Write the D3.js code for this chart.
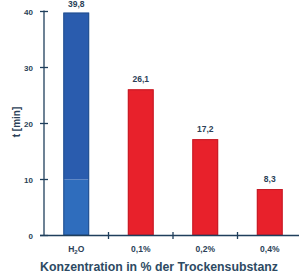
<!DOCTYPE html>
<html><head><meta charset="utf-8">
<script src="https://cdn.jsdelivr.net/npm/d3@7/dist/d3.min.js"></script>
<style>html,body{margin:0;padding:0;background:#fff;overflow:hidden}</style>
</head><body><svg id="c" width="299" height="277"></svg>
<script>
const categories = ["H2O", "0,1%", "0,2%", "0,4%"];
const values = [39.8, 26.1, 17.2, 8.3];
const valueLabels = ["39,8", "26,1", "17,2", "8,3"];
const yTicks = [0, 10, 20, 30, 40];
const colors = ["#2a5cae", "#e8212b", "#e8212b", "#e8212b"];

const svg = d3.select("#c");
const textCol = "#2b3f57";
const axisCol = "#1f3f5c";
const font = "Liberation Sans, Arial, sans-serif";
const x = d3.scaleBand().domain(categories).range([44, 302]).paddingInner(0.6).paddingOuter(0.3);
const y = d3.scaleLinear().domain([0, 40]).range([235.5, 11.5]);

const g = svg.append("g");
categories.forEach((c, i) => {
  const bx = x(c), bw = x.bandwidth();
  if (i === 0) {
    g.append("rect").attr("x", bx).attr("y", y(10)).attr("width", bw).attr("height", y(0) - y(10)).attr("fill", "#2f6dbd");
    g.append("rect").attr("x", bx).attr("y", y(values[i])).attr("width", bw).attr("height", y(10) - y(values[i])).attr("fill", colors[i]);
    g.append("rect").attr("x", bx + 0.5).attr("y", y(values[i]) + 0.5).attr("width", bw - 1).attr("height", y(0) - y(values[i]) - 1).attr("fill", "none").attr("stroke", "#24508f").attr("stroke-width", 1);
  } else {
    g.append("rect").attr("x", bx).attr("y", y(values[i])).attr("width", bw).attr("height", y(0) - y(values[i])).attr("fill", colors[i]);
    g.append("rect").attr("x", bx + 0.5).attr("y", y(values[i]) + 0.5).attr("width", bw - 1).attr("height", y(0) - y(values[i]) - 1).attr("fill", "none").attr("stroke", "#c41c27").attr("stroke-width", 1);
  }
  svg.append("text").attr("x", bx + bw / 2).attr("y", Math.max(y(values[i]) - 7, 7))
    .attr("text-anchor", "middle").attr("font-family", font)
    .attr("font-size", 8.5).attr("font-weight", "bold").attr("fill", textCol).text(valueLabels[i]);
});

// y axis
svg.append("line").attr("x1", 44).attr("x2", 44).attr("y1", y(40) - 1).attr("y2", y(0)).attr("stroke", axisCol).attr("stroke-width", 1.3);
yTicks.forEach(t => {
  svg.append("line").attr("x1", 40).attr("x2", 48).attr("y1", y(t)).attr("y2", y(t)).attr("stroke", axisCol).attr("stroke-width", 1.3);
  svg.append("text").attr("x", 33).attr("y", y(t) + 3).attr("text-anchor", "end")
    .attr("font-family", font).attr("font-size", 8).attr("font-weight", "bold")
    .attr("fill", textCol).text(t);
});
// x axis
svg.append("line").attr("x1", 40).attr("x2", 299).attr("y1", y(0)).attr("y2", y(0)).attr("stroke", axisCol).attr("stroke-width", 1.3);
const step = x.step();
for (let i = 1; i < categories.length; i++) {
  const tx = x(categories[i]) - (step - x.bandwidth()) / 2;
  svg.append("line").attr("x1", tx).attr("x2", tx).attr("y1", y(0) - 3.5).attr("y2", y(0) + 3.5).attr("stroke", axisCol).attr("stroke-width", 1.3);
}
categories.forEach((c, i) => {
  const t = svg.append("text").attr("x", x(c) + x.bandwidth() / 2).attr("y", 252).attr("text-anchor", "middle")
    .attr("font-family", font).attr("font-size", 8.5).attr("font-weight", "bold").attr("fill", textCol);
  if (c === "H2O") {
    t.append("tspan").text("H");
    t.append("tspan").attr("font-size", 6).attr("dy", 2).text("2");
    t.append("tspan").attr("dy", -2).text("O");
  } else t.text(c);
});

// titles
svg.append("text").attr("x", 159).attr("y", 271).attr("text-anchor", "middle")
  .attr("font-family", font).attr("font-size", 12.3).attr("font-weight", "bold")
  .attr("fill", "#2d4a63").text("Konzentration in % der Trockensubstanz");
svg.append("text").attr("transform", "translate(20,122) rotate(-90)").attr("text-anchor", "middle")
  .attr("font-family", font).attr("font-size", 10).attr("font-weight", "bold")
  .attr("fill", textCol).text("t [min]");
</script></body></html>
